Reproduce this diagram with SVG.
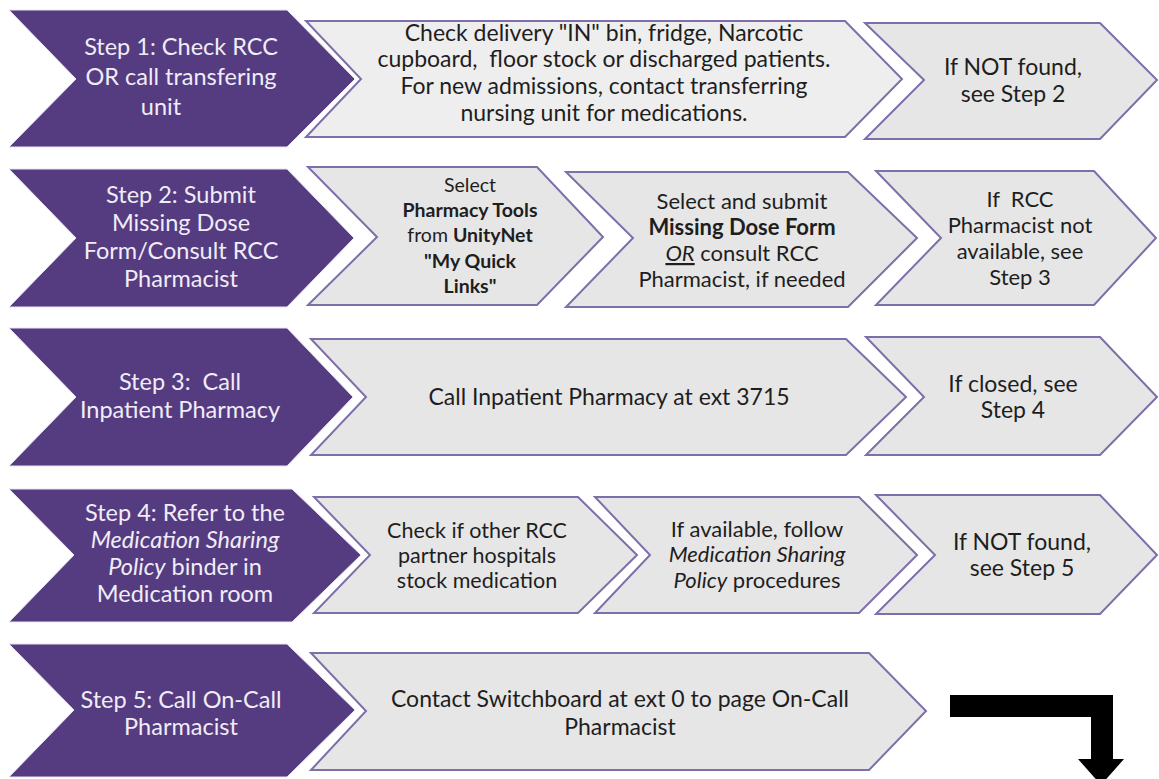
<svg xmlns="http://www.w3.org/2000/svg" width="1159" height="779" viewBox="0 0 1159 779">
<style>
.p{fill:#553C80;stroke:#E9E4F2;stroke-width:1}
.g{fill:#E6E6E6;stroke:#7E6EAA;stroke-width:2;stroke-linejoin:miter}
.g1{fill:#EEEEEE}
text{font-family:Lato,"Liberation Sans",sans-serif;font-size:23px;text-anchor:middle}
.pt{fill:#F0ECF8;font-size:23.5px}
.t{fill:#1E1E1E}
.s19{font-size:19.5px}
.s22{font-size:22px}
.s21{font-size:21.5px}
.b{font-weight:bold}
.i{font-style:italic}
.pre{white-space:pre}
</style>
<rect width="1159" height="779" fill="#FFFFFF"/>

<g id="step1">
<polygon class="p" points="9,10 287,10 355,79 287,147 9,147 76,79"/>
<text class="pt"><tspan x="181" y="55">Step 1: Check RCC</tspan><tspan x="181" y="85">OR call transfering</tspan><tspan x="161" y="115">unit</tspan></text>
</g>
<g id="step1-check">
<polygon class="g g1" points="306,21 845,21 902,79 845,137 306,137 361,79"/>
<text class="t"><tspan x="604" y="41">Check delivery "IN" bin, fridge, Narcotic</tspan><tspan x="604" y="67" class="pre">cupboard,  floor stock or discharged patients.</tspan><tspan x="604" y="94">For new admissions, contact transferring</tspan><tspan x="604" y="121">nursing unit for medications.</tspan></text>
</g>
<g id="step1-next">
<polygon class="g" points="865,23 1100,23 1157,80 1100,139 865,139 924,80"/>
<text class="t"><tspan x="1013" y="75">If NOT found,</tspan><tspan x="1013" y="102">see Step 2</tspan></text>
</g>

<g id="step2">
<polygon class="p" points="9,169 287,169 354,238 287,307 9,307 76,238"/>
<text class="pt"><tspan x="181" y="203">Step 2: Submit</tspan><tspan x="181" y="231">Missing Dose</tspan><tspan x="181" y="259">Form/Consult RCC</tspan><tspan x="181" y="287">Pharmacist</tspan></text>
</g>
<g id="step2-tools">
<polygon class="g" points="308,167 537,167 603,237 537,305 308,305 377,237"/>
<text class="t s19"><tspan x="470" y="192">Select</tspan><tspan x="470" y="217" class="b">Pharmacy Tools</tspan><tspan x="470" y="242">from <tspan class="b">UnityNet</tspan></tspan><tspan x="470" y="268" class="b">"My Quick</tspan><tspan x="470" y="293" class="b">Links"</tspan></text>
</g>
<g id="step2-form">
<polygon class="g" points="566,172 848,172 917,238 848,307 566,307 633,238"/>
<text class="t s22"><tspan x="742" y="209">Select and submit</tspan><tspan x="742" y="235" class="b">Missing Dose Form</tspan><tspan x="742" y="261"><tspan class="i" text-decoration="underline">OR</tspan> consult RCC</tspan><tspan x="742" y="287">Pharmacist, if needed</tspan></text>
</g>
<g id="step2-next">
<polygon class="g" points="876,171 1094,171 1156,238 1094,305 876,305 941,238"/>
<text class="t s22"><tspan x="1020" y="207" class="pre">If  RCC</tspan><tspan x="1020" y="233">Pharmacist not</tspan><tspan x="1020" y="259">available, see</tspan><tspan x="1020" y="285">Step 3</tspan></text>
</g>

<g id="step3">
<polygon class="p" points="9,328 287,328 353,397 287,466 9,466 76,397"/>
<text class="pt"><tspan x="180" y="390" class="pre">Step 3:  Call</tspan><tspan x="180" y="418">Inpatient Pharmacy</tspan></text>
</g>
<g id="step3-call">
<polygon class="g" points="311,339 846,339 906,397 846,455 311,455 366,397"/>
<text class="t" x="609" y="405">Call Inpatient Pharmacy at ext 3715</text>
</g>
<g id="step3-next">
<polygon class="g" points="866,337 1100,337 1157,397 1100,455 866,455 924,397"/>
<text class="t"><tspan x="1013" y="392">If closed, see</tspan><tspan x="1013" y="418">Step 4</tspan></text>
</g>

<g id="step4">
<polygon class="p" points="9,489 292,489 361,555 292,622 9,622 74,555"/>
<text class="pt"><tspan x="185" y="521">Step 4: Refer to the</tspan><tspan x="185" y="548" class="i">Medication Sharing</tspan><tspan x="185" y="575"><tspan class="i">Policy</tspan> binder in</tspan><tspan x="185" y="602">Medication room</tspan></text>
</g>
<g id="step4-check">
<polygon class="g" points="314,497 578,497 637,555 578,613 314,613 370,555"/>
<text class="t s21"><tspan x="477" y="538">Check if other RCC</tspan><tspan x="477" y="563">partner hospitals</tspan><tspan x="477" y="588">stock medication</tspan></text>
</g>
<g id="step4-follow">
<polygon class="g" points="595,497 859,497 917,555 859,613 595,613 650,555"/>
<text class="t s22"><tspan x="757" y="537">If available, follow</tspan><tspan x="757" y="562" class="i">Medication Sharing</tspan><tspan x="757" y="588"><tspan class="i">Policy</tspan> procedures</tspan></text>
</g>
<g id="step4-next">
<polygon class="g" points="876,495 1100,495 1157,555 1100,614 876,614 935,555"/>
<text class="t"><tspan x="1022" y="550">If NOT found,</tspan><tspan x="1022" y="576">see Step 5</tspan></text>
</g>

<g id="step5">
<polygon class="p" points="9,644 287,644 355,710 287,777 9,777 74,710"/>
<text class="pt"><tspan x="181" y="708">Step 5: Call On-Call</tspan><tspan x="181" y="735">Pharmacist</tspan></text>
</g>
<g id="step5-contact">
<polygon class="g" points="311,653 869,653 926,711 869,770 311,770 366,711"/>
<text class="t"><tspan x="620" y="707">Contact Switchboard at ext 0 to page On-Call</tspan><tspan x="620" y="735">Pharmacist</tspan></text>
</g>

<g id="connectors">
<polygon fill="#000000" points="950,695 1113,695 1113,759 1124,759 1101,785 1078,759 1091,759 1091,717 950,717"/>
</g>
</svg>
